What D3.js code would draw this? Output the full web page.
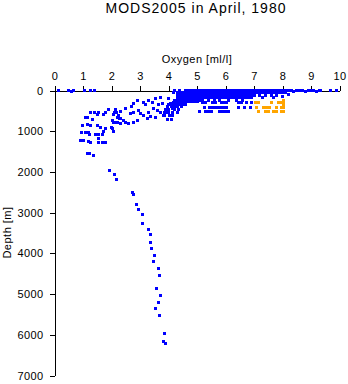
<!DOCTYPE html>
<html>
<head>
<meta charset="utf-8">
<script src="https://cdn.jsdelivr.net/npm/d3@7"></script>
<style>
  body { margin: 0; background: #fff; }
  svg { display: block; }
  text { font-family: "Liberation Sans", Arial, Helvetica, sans-serif; fill: #000; }
</style>
</head>
<body>
<svg id="chart" width="348" height="384"></svg>
<script>
// Tick values for both axes
const oxygenTicks = [0, 1, 2, 3, 4, 5, 6, 7, 8, 9, 10];
const depthTicks = [0, 1000, 2000, 3000, 4000, 5000, 6000, 7000];

// Near-surface samples, [oxygen ml/l, depth m]
const surfaceSamples = [
  [0.15, 0], [0.5, 5], [0.6, 25], [0.65, 10], [1.05, 0], [1.25, 5], [1.42, 0],
  [8.1, 0], [8.2, 10], [8.3, 0], [8.4, 20], [8.5, 0], [8.6, 10], [8.7, 0], [8.8, 15],
  [8.9, 0], [9.0, 10], [9.1, 0], [9.2, 20], [9.3, 0], [9.35, 10], [9.7, 0], [9.9, 5],
  [8.1, 60], [8.2, 110], [8.0, 150]
];

// Dense upper layer: rows of [depth, oxygen values]
const upperRows = [
  [0,   [4.2, 4.4, 4.6, 4.7, 4.8, 4.9, 5.0, 5.1, 5.2, 5.3, 5.4, 5.5, 5.6, 5.7, 5.8, 5.9, 6.0, 6.1, 6.2, 6.3, 6.4, 6.5, 6.6, 6.7, 6.8, 6.9, 7.0, 7.1, 7.2, 7.3, 7.4, 7.5, 7.6, 7.7, 7.8, 7.9, 8.0]],
  [60,  [4.3, 4.4, 4.5, 4.6, 4.7, 4.8, 4.9, 5.0, 5.1, 5.2, 5.3, 5.4, 5.5, 5.6, 5.7, 5.8, 5.9, 6.0, 6.1, 6.2, 6.3, 6.4, 6.5, 6.6, 6.7, 6.8, 6.9, 7.0, 7.1, 7.2, 7.3, 7.4, 7.5, 7.6, 7.7, 7.8, 7.9, 8.0]],
  [120, [4.3, 4.4, 4.5, 4.6, 4.7, 4.8, 4.9, 5.0, 5.1, 5.2, 5.3, 5.4, 5.5, 5.6, 5.7, 5.8, 5.9, 6.0, 6.1, 6.2, 6.3, 6.4, 6.5, 6.6, 6.7, 6.8, 6.9, 7.0, 7.2, 7.4, 7.6, 7.8]],
  [180, [4.3, 4.4, 4.5, 4.6, 4.7, 4.8, 4.9, 5.0, 5.1, 5.2, 5.3, 5.4, 5.5, 5.6, 5.7, 5.8, 5.9, 6.0, 6.1, 6.2, 6.3, 6.4, 6.5, 6.6, 6.7, 6.8, 6.9, 7.3, 7.7]],
  [240, [4.2, 4.3, 4.4, 4.5, 4.6, 4.7, 4.8, 4.9, 5.0, 5.1, 5.2, 5.4, 5.6, 5.8, 6.1, 6.4, 6.6]],
  [280, [4.2, 4.3, 4.4, 4.5, 4.6, 4.7, 4.8, 4.9, 5.0]],
  [340, [4.0, 4.1, 4.2, 4.3, 4.4, 4.5, 4.6]],
  [400, [3.95, 4.1, 4.2, 4.3, 4.45]],
  [470, [3.9, 4.0, 4.2, 4.35]],
  [540, [3.85, 4.0, 4.15, 4.3]],
  [620, [3.85, 4.05, 4.15]],
  [700, [3.95, 4.1]],
  [300, [5.2, 5.3, 5.55, 5.65, 5.85, 5.95, 6.05, 6.45, 6.55, 6.75, 6.9]],
  [420, [5.25, 5.45, 5.55, 5.65, 5.75, 5.85, 5.95, 6.05, 6.45, 6.65, 6.87]],
  [525, [5.1, 5.3, 5.4, 5.5, 5.8, 5.9, 6.0, 6.1]]
];

// Intermediate water scatter, [oxygen ml/l, depth m]
const midSamples = [
  [3.11, 295], [3.29, 246], [3.53, 196], [3.71, 172], [3.99, 196], [4.16, 49],
  [3.46, 442], [3.60, 491], [3.71, 540], [3.81, 614], [3.95, 540], [4.13, 442],
  [4.06, 319], [4.16, 295], [4.30, 196], [2.94, 491], [2.76, 540], [2.66, 565],
  [3.01, 565], [3.11, 614], [3.25, 688], [3.36, 639], [2.90, 737], [2.76, 786],
  [2.59, 810], [2.48, 786], [2.41, 737], [2.31, 688], [2.20, 663], [2.31, 810],
  [2.06, 786], [2.48, 442], [2.69, 393], [2.76, 319], [2.31, 516], [2.13, 467],
  [2.09, 540], [2.06, 589], [2.02, 933], [2.06, 1007], [1.88, 467], [2.16, 540],
  [2.24, 614], [2.27, 688], [1.78, 540], [1.71, 589], [1.25, 540], [1.39, 540],
  [1.53, 540], [1.50, 589], [1.32, 712], [1.08, 663], [1.15, 663], [2.02, 737],
  [2.09, 786], [2.20, 786], [0.97, 860], [1.15, 835], [1.25, 860], [1.50, 860],
  [1.60, 909], [1.99, 909], [1.78, 933], [1.71, 1007], [0.94, 1032], [1.08, 1032],
  [1.18, 1032], [1.22, 1081], [1.43, 1081], [1.53, 1081], [1.67, 1081], [0.90, 1228],
  [1.01, 1228], [1.18, 1253], [1.25, 1277], [1.53, 1179], [1.53, 1277], [1.67, 1277],
  [1.78, 1277], [1.15, 1547], [1.22, 1547], [1.36, 1596],
  [2.90, 246], [3.18, 344], [3.43, 295], [3.64, 344], [3.78, 319],
  [3.29, 540], [3.53, 663]
];

// Deep profile, [oxygen ml/l, depth m]
const deepSamples = [
  [1.93, 1965], [2.09, 2070], [2.19, 2186], [2.72, 2513], [2.77, 2562],
  [2.88, 2807], [2.96, 2930], [3.08, 3053], [3.09, 3274], [3.30, 3414],
  [3.37, 3537], [3.37, 3733], [3.40, 3888], [3.51, 4060], [3.49, 4207],
  [3.65, 4379], [3.68, 4551], [3.58, 4870], [3.72, 5042], [3.65, 5214],
  [3.54, 5346], [3.68, 5518], [3.86, 5976], [3.82, 6157], [3.89, 6221]
];

// Highlighted cast (drawn in orange)
const flaggedSamples = [
  [7.05, 300], [7.15, 300], [7.6, 300], [7.85, 300], [7.95, 300], [8.05, 300], [8.05, 255],
  [7.1, 410], [7.35, 410], [7.45, 410], [7.55, 410], [7.8, 410], [7.95, 410], [8.05, 410],
  [7.15, 515], [7.4, 515], [7.5, 515], [7.7, 515], [7.8, 515], [7.95, 515], [8.05, 515],
  [8.05, 360]
];

const bluePoints = surfaceSamples
  .concat(upperRows.flatMap(([d, oxs]) => oxs.map(o => [o, d])))
  .concat(midSamples)
  .concat(deepSamples);

const svg = d3.select("#chart");

const x = d3.scaleLinear().domain([0, 10]).range([54, 339]);
const y = d3.scaleLinear().domain([0, 7000]).range([90, 375]);

// Title
svg.append("text")
  .attr("x", 196).attr("y", 13)
  .attr("text-anchor", "middle")
  .style("font-size", "14px")
  .style("letter-spacing", "1px")
  .text("MODS2005 in April, 1980");

// Top x axis
const gx = svg.append("g")
  .attr("transform", `translate(0.5,${y(0) + 0.5})`)
  .call(d3.axisTop(x).tickValues(oxygenTicks).tickFormat(d3.format("d"))
    .tickSize(5).tickSizeOuter(0).tickPadding(6));

// Left y axis
const gy = svg.append("g")
  .attr("transform", `translate(${x(0) + 0.5},0.5)`)
  .call(d3.axisLeft(y).tickValues(depthTicks).tickFormat(d3.format("d"))
    .tickSize(5).tickSizeOuter(0).tickPadding(6));

[gx, gy].forEach(g => {
  g.selectAll("path, line").attr("stroke", "#000").attr("shape-rendering", "crispEdges");
  g.selectAll("text")
    .style("font-family", "\"Liberation Sans\", Arial, sans-serif")
    .style("font-size", "11px")
    .style("letter-spacing", "0.4px")
    .attr("fill", "#000");
});

// Axis titles
svg.append("text")
  .attr("x", 197).attr("y", 63)
  .attr("text-anchor", "middle")
  .style("font-size", "11px")
  .style("letter-spacing", "0.5px")
  .text("Oxygen [ml/l]");

svg.append("text")
  .attr("transform", `translate(11,${(y(0) + y(7000)) / 2}) rotate(-90)`)
  .attr("text-anchor", "middle")
  .style("font-size", "11px")
  .style("letter-spacing", "0.5px")
  .text("Depth [m]");

// Sample markers
const markers = svg.append("g").attr("shape-rendering", "crispEdges");

markers.selectAll("rect.blue")
  .data(bluePoints)
  .join("rect")
  .attr("class", "blue")
  .attr("x", d => Math.round(x(d[0])) - 1)
  .attr("y", d => Math.round(y(d[1])) - 1)
  .attr("width", 3).attr("height", 3)
  .attr("fill", "#0000ff");

markers.selectAll("rect.orange")
  .data(flaggedSamples)
  .join("rect")
  .attr("class", "orange")
  .attr("x", d => Math.round(x(d[0])) - 1)
  .attr("y", d => Math.round(y(d[1])) - 1)
  .attr("width", 3).attr("height", 3)
  .attr("fill", "#ffa500");
</script>
</body>
</html>
